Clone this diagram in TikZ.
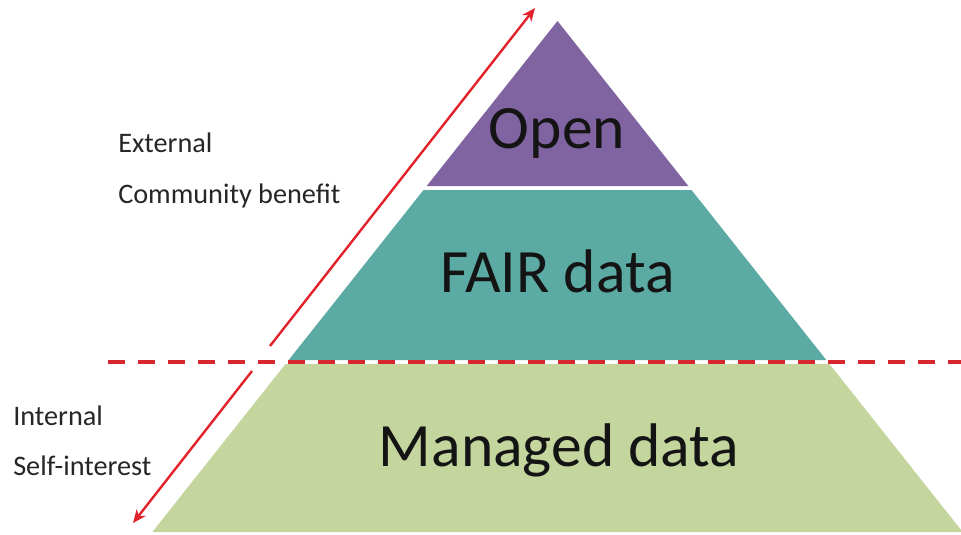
\documentclass[tikz,border=0pt]{standalone}
\usepackage{fontspec}
\setmainfont{Carlito}
\usetikzlibrary{arrows.meta}
\definecolor{openpurple}{HTML}{8064A2}
\definecolor{fairteal}{HTML}{5BAAA4}
\definecolor{managedgreen}{HTML}{C4D59E}
\definecolor{divred}{HTML}{D7262E}
\definecolor{arrowred}{HTML}{E2222A}

\begin{document}
\begin{tikzpicture}[x=0.75pt,y=0.75pt,yscale=-1,
    biglabel/.style={anchor=base,inner sep=0pt,text=black!92,font=\fontsize{46.2}{54}\selectfont},
    sidelabel/.style={anchor=base west,inner sep=0pt,text=black!85,font=\fontsize{21.2}{25}\selectfont},
    benefit/.style={draw=arrowred,line width=1.8pt,-{Stealth[length=10pt,width=8.5pt]}},
    divide/.style={draw=divred,line width=3.3pt,dash pattern=on 12.75pt off 9.75pt}]
        \path[use as bounding box] (0,0) rectangle (961,535);

        %Shape: Triangle [id:open]
        \fill[openpurple] (557.5,21) -- (688.3,186) -- (426.7,186) -- cycle ;
        %Shape: Trapezoid [id:fair]
        \fill[fairteal] (423.5,190) -- (691.5,190) -- (826.3,360) -- (288.7,360) -- cycle ;
        %Shape: Trapezoid [id:managed]
        \fill[managedgreen] (285.5,364) -- (829.5,364) -- (962.7,532) -- (152.3,532) -- cycle ;

        %Straight Lines [id:divide]
        \coordinate (dl) at (108,362);
        \coordinate (dr) at (961,362);
        \draw[divide] (dl) -- (dr) ;

        %Straight Lines [id:up]
        \coordinate (upstart) at (270,346);
        \coordinate (uptip) at (535,8);
        \draw[benefit] (upstart) -- (uptip) ;
        %Straight Lines [id:down]
        \coordinate (downstart) at (252,371);
        \coordinate (downtip) at (133,523);
        \draw[benefit] (downstart) -- (downtip) ;

        % Text Node
        \node[biglabel] (open) at (557,148) {Open};
        % Text Node
        \node[biglabel] (fair) at (557.5,292) {FAIR data};
        % Text Node
        \node[biglabel] (managed) at (559,466) {Managed data};
        % Text Node
        \node[sidelabel] (external) at (118,152) {External};
        % Text Node
        \node[sidelabel] (community) at (118,203) {Community benefit};
        % Text Node
        \node[sidelabel] (internal) at (13,425) {Internal};
        % Text Node
        \node[sidelabel] (self) at (13,475) {Self-interest};

\end{tikzpicture}
\end{document}
